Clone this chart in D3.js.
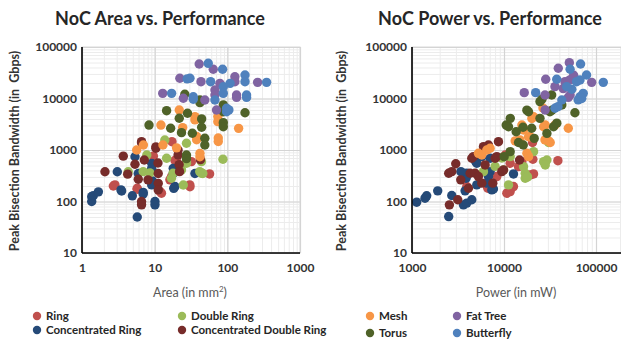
<!DOCTYPE html>
<html><head><meta charset="utf-8">
<script src="https://cdn.jsdelivr.net/npm/d3@7"></script>
<style>
html,body{margin:0;padding:0;background:#fff;}
svg text{font-family:Lato,"Open Sans",sans-serif;}
</style></head>
<body><svg id="c" width="621" height="341"></svg>
<script>
// ---------- data ----------
const seriesNames = ["Ring","Concentrated Ring","Double Ring","Concentrated Double Ring","Mesh","Torus","Fat Tree","Butterfly"];
const seriesColors = ["#C0504D","#254A78","#9BBB59","#772C2A","#F79646","#4F6228","#8064A2","#4F81BD"];
const xTicksArea = [1,10,100,1000];
const xTicksPower = [1000,10000,100000];
const yTicks = [10,100,1000,10000,100000];

// Area (mm^2) vs bandwidth (Gbps)
const ringArea = [[2.84,210],[2.7,200],[5.75,181],[5.76,173],[12.4,145],[11.8,157],[30.4,210],[30.6,194],[57,343],[17.3,1450],[19.9,640],[19,630],[32,594],[9.6,760],[16.2,263],[10.6,210],[22,470],[17,300]];
const concRingArea = [[1.36,124],[1.36,100],[1.43,130],[1.68,154],[3.06,379],[3.44,168],[3.51,160],[5.36,740],[4.93,129],[5.76,50],[5.95,350],[6.96,150],[6.95,140],[9.1,550],[9.1,440],[9.34,250],[9.1,210],[10.1,100],[10.1,86],[18,440],[18,350],[19,195],[18.3,180],[35.8,350]];
const doubleRingArea = [[87,660],[44,594],[44,353],[46,350],[41.7,381],[23.4,410],[14.6,690],[7.8,800],[4.33,379],[6.95,381],[8.6,360],[24.8,209],[13.8,1560],[27.4,1350],[27.4,552],[27.4,594],[17.9,353],[17,283]];
const concDoubleRingArea = [[2.07,379],[3.7,760],[4.25,340],[5.36,530],[5.95,270],[6.6,1450],[6.6,1380],[7.2,640],[6.6,100],[6.6,86],[8.1,263],[10.4,1150],[10.4,1080],[11.1,560],[11.2,350],[11.2,225],[11.2,168],[21,1000],[21,800],[21.7,520],[22,380],[42.6,650]];
const meshArea = [[21.8,5980],[35.8,4450],[35.8,3840],[12.2,3050],[24.3,2720],[37.8,1830],[37.8,1580],[74,4450],[74,3550],[75,1710],[75,1460],[143,2630],[5.66,1000],[7,1250],[13,1250],[20,1100],[42,860],[42,740]];
const torusArea = [[26,12100],[42,9360],[42,8300],[88,7500],[88,5540],[175,5300],[44.3,4010],[44.3,2760],[88,3390],[88,2830],[49,1690],[49,1250],[28.3,5160],[33,2110],[14.6,5800],[21.8,4130],[8.36,3050],[16.6,2640],[23.4,2170],[27.4,800],[27.4,680]];
const fatTreeArea = [[41,46800],[64,36900],[127,26500],[127,21200],[261,20600],[43.4,21200],[22.2,24700],[67.5,14600],[67.5,11700],[79,19700],[134,11700],[134,10500],[71,5980],[49,9360],[24.8,10100],[12.9,12600]];
const butterflyArea = [[54.6,48200],[86,36900],[28,24000],[30.6,24700],[58.9,21200],[109,19700],[175,28600],[175,21200],[347,20600],[17.1,12600],[34,10800],[34,9700],[88,16900],[88,12600],[184,11700],[184,10500],[67.5,9360],[97.7,6460],[97.7,5540],[105,6000]];

// Power (mW) vs bandwidth (Gbps)
const ringPower = [[3937,195],[6666,195],[6666,181],[8350,305],[10740,145],[11670,156],[12680,195],[14380,475],[20430,1400],[20600,660],[19270,328],[20950,343],[38510,620],[15640,594],[11670,552],[10300,800]];
const concRingPower = [[1124,97],[1385,116],[1444,129],[1903,161],[2705,131],[2505,51],[3622,86],[3937,93],[4465,108],[3937,353],[3872,283],[3777,161],[5058,552],[4933,594],[5735,743],[7065,381],[6777,305],[6500,227],[7366,168],[7680,175],[7065,690],[12680,343],[5058,210],[3400,380]];
const doubleRingPower = [[5980,380],[9885,410],[11200,210],[11670,743],[16310,475],[17000,353],[17000,283],[17730,305],[20950,929],[26940,594],[29270,640],[28080,513],[30510,1400],[9465,700],[18000,300],[8000,480]];
const concDoubleRingPower = [[2550,86],[3142,108],[2505,353],[2705,381],[2990,540],[3388,263],[4465,690],[4656,743],[4283,353],[4853,353],[5273,305],[4105,181],[5735,227],[5980,1160],[6500,1080],[6777,1250],[6235,513],[7550,227],[8010,690],[8350,743],[8705,1450],[9885,410],[9465,381],[14750,640]];
const meshPower = [[5273,862],[5735,800],[6500,1000],[7065,1080],[13230,1500],[15640,3050],[16310,2440],[19270,1810],[18480,1810],[17730,862],[18480,743],[20090,4100],[20950,4420],[26940,2830],[28080,3050],[31810,1400],[30510,1500],[27900,1570],[35800,3050],[50000,2640],[26500,6550],[16100,2800],[14900,1570]];
const torusPower = [[10040,743],[11670,929],[10570,3050],[11200,2830],[11700,4120],[13560,2260],[14380,1400],[16100,2760],[20000,2640],[17730,5940],[18480,5520],[21300,1680],[24600,4120],[24600,8700],[25840,9700],[31600,5540],[33160,5900],[34570,2830],[37500,3320],[42500,7500],[59000,5300],[29270,2100],[33000,11700],[16200,1250]];
const fatTreePower = [[16600,13000],[28400,23600],[38900,38600],[51300,49600],[46000,21200],[52000,23000],[57120,28300],[89700,20600],[52300,11700],[50000,10500],[27900,11700],[28000,6000],[35800,17000],[44000,15600]];
const butterflyPower = [[22100,13000],[37400,23600],[52300,36900],[68000,46800],[79000,28600],[120000,20600],[61500,21200],[67000,22900],[54600,15100],[67000,10800],[72600,12600],[64000,9400],[35800,6460],[38600,6950],[42500,9360],[48000,17000],[70000,10000]];

const areaSeries = [ringArea,concRingArea,doubleRingArea,concDoubleRingArea,meshArea,torusArea,fatTreeArea,butterflyArea];
const powerSeries = [ringPower,concRingPower,doubleRingPower,concDoubleRingPower,meshPower,torusPower,fatTreePower,butterflyPower];

// ---------- drawing ----------
const svg = d3.select("#c");
const yTop = 47, yBot = 253;
const dark = "#333333";

function minorTicks(lo, hi){
  const out=[];
  for(let e=Math.floor(Math.log10(lo)); e<=Math.ceil(Math.log10(hi)); e++){
    for(let m=1;m<10;m++){const v=m*Math.pow(10,e); if(v>=lo*0.999 && v<=hi*1.001) out.push(v);}
  }
  return out;
}

function panel(opts){
  const {x0,x1,xDomain,xRange,xTicks,xMax,data,title,titleX,xTitle,xTitleSup,xTitleX,yTitleX} = opts;
  const x = d3.scaleLog().domain(xDomain).range(xRange);
  const y = d3.scaleLog().domain([10,100000]).range([yBot,yTop]);
  const g = svg.append("g");
  g.append("rect").attr("x",x0).attr("y",yTop).attr("width",x1-x0).attr("height",yBot-yTop)
    .attr("fill","none").attr("stroke","#d9d9d9").attr("stroke-width",1);
  const xm = minorTicks(xDomain[0], xMax).filter(v=>x(v)<=x1);
  const ym = minorTicks(10,100000);
  g.append("g").attr("transform",`translate(0,${yBot})`)
    .call(d3.axisBottom(x).tickValues(xm).tickSize(-(yBot-yTop)).tickFormat(""))
    .call(a=>{a.select(".domain").remove(); a.selectAll("line").attr("stroke","#ececec").attr("stroke-width",1);});
  g.append("g").attr("transform",`translate(${x0},0)`)
    .call(d3.axisLeft(y).tickValues(ym).tickSize(-(x1-x0)).tickFormat(""))
    .call(a=>{a.select(".domain").remove(); a.selectAll("line").attr("stroke","#ececec").attr("stroke-width",1);});
  g.append("g").attr("transform",`translate(0,${yBot})`)
    .call(d3.axisBottom(x).tickValues(xTicks).tickSize(-(yBot-yTop)).tickFormat(""))
    .call(a=>{a.select(".domain").remove(); a.selectAll("line").attr("stroke","#d4d4d4").attr("stroke-width",1.2);});
  g.append("g").attr("transform",`translate(${x0},0)`)
    .call(d3.axisLeft(y).tickValues(yTicks).tickSize(-(x1-x0)).tickFormat(""))
    .call(a=>{a.select(".domain").remove(); a.selectAll("line").attr("stroke","#d4d4d4").attr("stroke-width",1.2);});
  const clip = "clip"+x0;
  svg.append("clipPath").attr("id",clip).append("rect").attr("x",x0).attr("y",yTop-6).attr("width",x1-x0+6).attr("height",yBot-yTop+6);
  const pts = g.append("g").attr("clip-path",`url(#${clip})`);
  data.forEach((s,i)=>{
    pts.selectAll(null).data(s).enter().append("circle")
      .attr("cx",d=>x(d[0])).attr("cy",d=>y(d[1])).attr("r",4.7)
      .attr("fill",seriesColors[i]);
  });
  g.append("g").attr("transform",`translate(0,${yBot})`)
    .call(d3.axisBottom(x).tickValues(xTicks).tickSize(0).tickPadding(10).tickFormat(d3.format("d")))
    .call(a=>{a.select(".domain").attr("d",`M${x0},0H${x1}`).attr("stroke","#000").attr("stroke-width",1.6);
      a.selectAll("text").attr("font-size",12).attr("font-weight","bold").attr("fill",dark).style("font-family","Lato,sans-serif");});
  g.append("g").attr("transform",`translate(${x0},0)`)
    .call(d3.axisLeft(y).tickValues(yTicks).tickSize(0).tickPadding(5).tickFormat(d3.format("d")))
    .call(a=>{a.select(".domain").attr("d",`M0,${yTop}V${yBot}`).attr("stroke","#000").attr("stroke-width",1.6);
      a.selectAll("text").attr("font-size",12).attr("font-weight","bold").attr("fill",dark).style("font-family","Lato,sans-serif");});
  g.append("text").attr("x",titleX).attr("y",25).attr("text-anchor","middle")
    .attr("font-size",18).attr("font-weight","bold").attr("fill","#262626").text(title);
  const xt = g.append("text").attr("x",xTitleX).attr("y",297).attr("text-anchor","middle")
    .attr("font-size",12.5).attr("fill","#595959").text(xTitle);
  if(xTitleSup){ xt.append("tspan").attr("font-size",8).attr("dy",-5).text(xTitleSup);
    xt.append("tspan").attr("dy",5).text(")"); }
  g.append("text").attr("transform",`translate(${yTitleX},151) rotate(-90)`).attr("text-anchor","middle")
    .attr("font-size",12.5).attr("font-weight","bold").attr("fill",dark).attr("xml:space","preserve")
    .text("Peak Bisection Bandwidth (in  Gbps)");
}

panel({x0:82,x1:300,xDomain:[1,1000],xRange:[82,300],xTicks:xTicksArea,xMax:1000,data:areaSeries,
  title:"NoC Area vs. Performance",titleX:160,xTitle:"Area (in mm",xTitleSup:"2",xTitleX:190,yTitleX:19});
panel({x0:412,x1:621,xDomain:[1000,100000],xRange:[412,596],xTicks:xTicksPower,xMax:200000,data:powerSeries,
  title:"NoC Power vs. Performance",titleX:490,xTitle:"Power (in mW)",xTitleSup:null,xTitleX:516,yTitleX:346});

// legend
const legendPos = [[37,316],[37,330],[182,316],[182,330],[370,316],[370,333],[457,316],[457,333]];
const lg = svg.append("g");
seriesNames.forEach((n,i)=>{
  const [lx,ly] = legendPos[i];
  lg.append("circle").attr("cx",lx).attr("cy",ly).attr("r",4.2).attr("fill",seriesColors[i]);
  lg.append("text").attr("x",lx+9).attr("y",ly+4.2).attr("font-size",11.5).attr("font-weight","bold")
    .attr("fill","#262626").text(n);
});
</script></body></html>
